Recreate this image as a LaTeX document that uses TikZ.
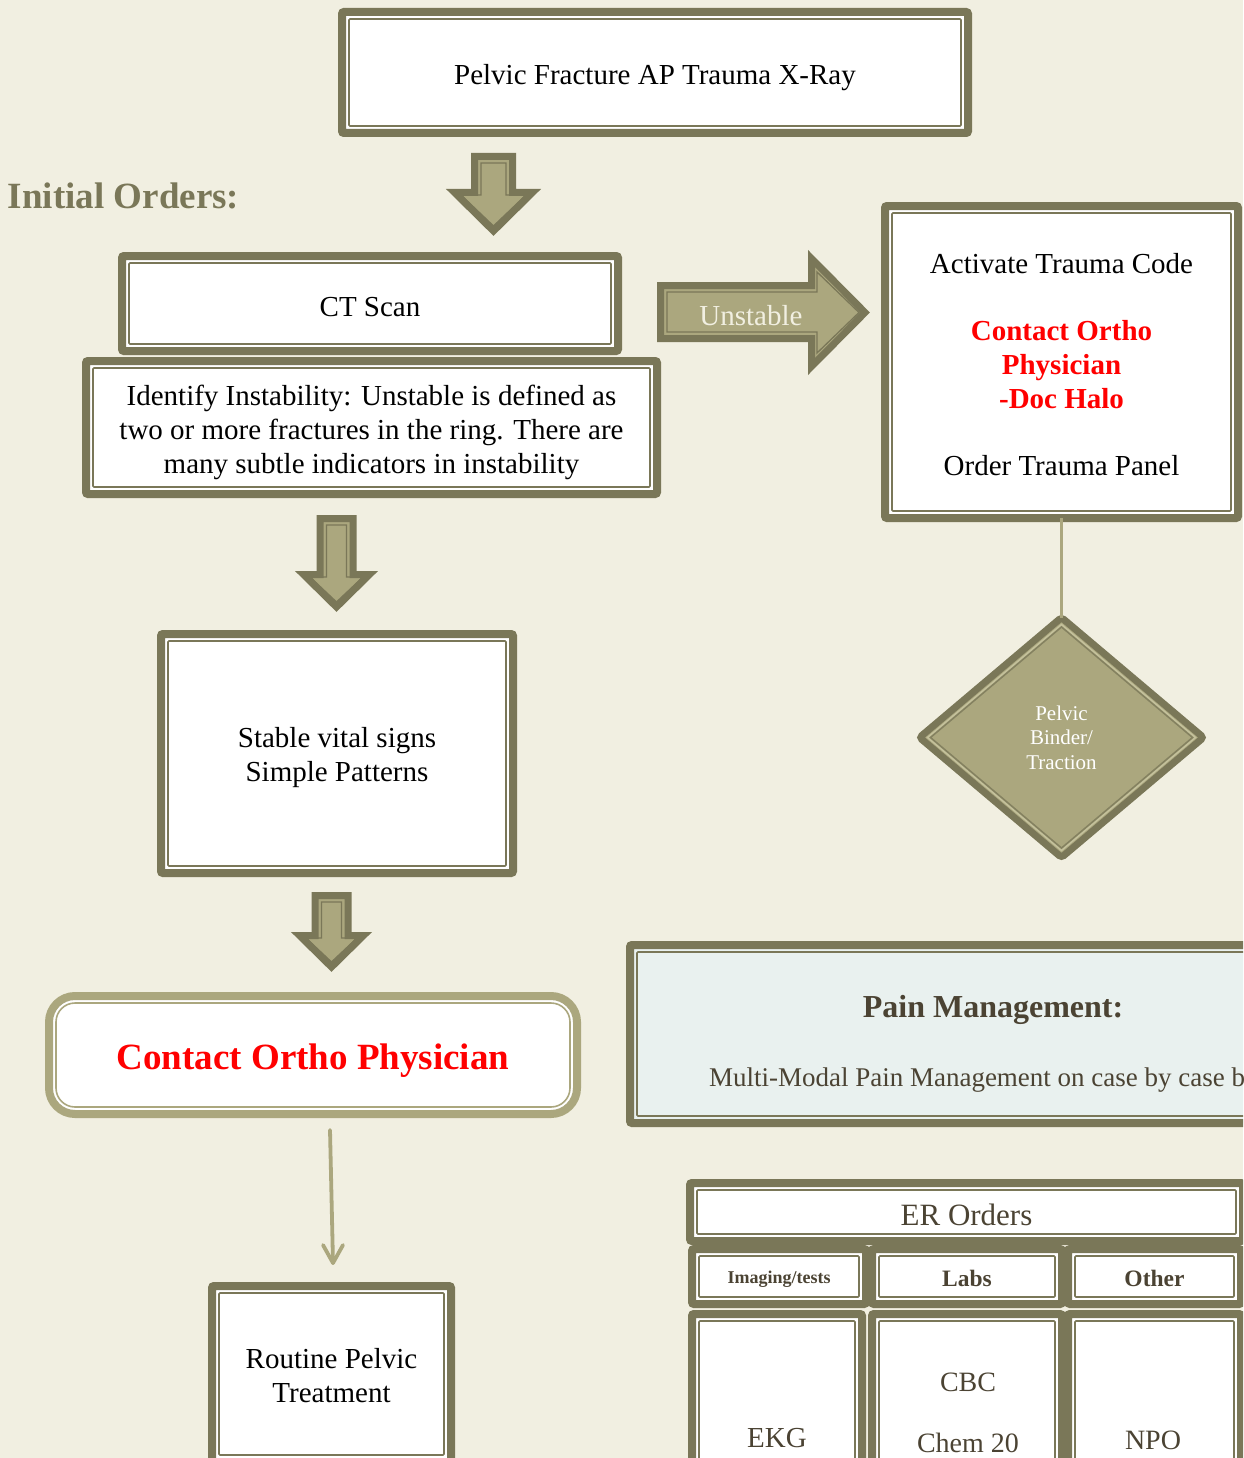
\documentclass[tikz,border=0pt]{standalone}
\usepackage{fontspec}
\setmainfont{Liberation Serif}
\usetikzlibrary{arrows.meta,shapes.geometric,calc}
\definecolor{bgc}{HTML}{F1EFE1}
\definecolor{dk}{HTML}{7A7758}
\definecolor{lt}{HTML}{ABA77E}
\definecolor{ltl}{HTML}{C4C19C}
\definecolor{painbg}{HTML}{E9F1EF}
\definecolor{brn}{HTML}{4B4333}
\definecolor{rd}{HTML}{FF0000}
\newcommand{\fsz}[2]{\fontsize{#1}{#2}\selectfont}
% block down arrow: cx, top, shaft half, head half, head base y, tip y (outer extents)
\newcommand{\blockdown}[6]{%
  \draw[barrow] ({#1-#3+3.5},{#2+3.5}) -- ({#1+#3-3.5},{#2+3.5}) -- ({#1+#3-3.5},{#5+3.5})
     -- ({#1+#4-8.5},{#5+3.5}) -- (#1,{#6-5}) -- ({#1-#4+8.5},{#5+3.5})
     -- ({#1-#3+3.5},{#5+3.5}) -- cycle;
  \draw[barrowin] ({#1-#3+10},{#2+10}) -- ({#1+#3-10},{#2+10}) -- ({#1+#3-10},{#5+6})
     -- ({#1+#4-15},{#5+6}) -- (#1,{#6-10}) -- ({#1-#4+15},{#5+6})
     -- ({#1-#3+10},{#5+6}) -- cycle;}
\begin{document}
\begin{tikzpicture}[x=1pt,y=-1pt,
  box/.style={draw=dk,line width=8pt,fill=white,rounded corners=2pt,outer sep=0pt,inner sep=0pt},
  innerln/.style={draw=dk,line width=1.6pt,rounded corners=1pt},
  barrow/.style={draw=dk,fill=lt,line width=7pt,line join=miter},
  barrowin/.style={draw=dk,line width=1.3pt,line join=miter},
  txt/.style={inner sep=0pt,outer sep=0pt,align=center},
  body/.style={txt,font=\fsz{29}{34}},
  conn/.style={draw=lt,line width=3.5pt},
  thinarr/.style={draw=lt,line width=3.8pt,line cap=round,line join=round},
  ]
\useasboundingbox (0,0) rectangle (1243,1458);
\clip (0,0) rectangle (1243,1458);
\fill[bgc] (0,0) rectangle (1243,1458);

% ---- main boxes
\node[box,minimum width=626,minimum height=121] (top) at (655,72.5) {};
\node[box,minimum width=496,minimum height=95] (ct) at (370,303.5) {};
\node[box,minimum width=571,minimum height=133] (ident) at (371.5,427.5) {};
\node[box,minimum width=353,minimum height=312] (trauma) at (1061.5,362) {};
\node[box,minimum width=352,minimum height=239] (stable) at (337,753.5) {};
\node[box,draw=lt,rounded corners=26pt,minimum width=528,minimum height=118] (contact) at (313,1055) {};
\node[box,minimum width=239,minimum height=176] (routine) at (331.5,1374) {};
\node[box,fill=painbg,minimum width=632,minimum height=178] (pain) at (946,1034) {};

% ---- ER orders table
\node[box,minimum width=553,minimum height=58] (erh) at (966.5,1212) {};
\node[box,minimum width=174,minimum height=55] (c1) at (779,1276.5) {};
\node[box,minimum width=190,minimum height=55] (c2) at (967,1276.5) {};
\node[box,minimum width=173,minimum height=55] (c3) at (1154.5,1276.5) {};
\node[box,minimum width=170,minimum height=156] (d1) at (777,1392) {};
\node[box,minimum width=190,minimum height=156] (d2) at (967,1392) {};
\node[box,minimum width=173,minimum height=156] (d3) at (1154.5,1392) {};

\foreach \n in {top,ct,ident,trauma,stable,routine,pain,erh,c1,c2,c3,d1,d2,d3}
  \draw[innerln] ([shift={(7pt,-7pt)}]\n.north west) rectangle ([shift={(-7pt,7pt)}]\n.south east);
\draw[draw=lt,line width=1.6pt,rounded corners=19pt]
  ([shift={(7pt,-7pt)}]contact.north west) rectangle ([shift={(-7pt,7pt)}]contact.south east);

% ---- box texts
\node[body] (toptxt) at ([yshift=-5pt]top.center) {Pelvic Fracture AP Trauma X-Ray};
\node[body] (cttxt) at ([yshift=-4pt]ct.center) {CT Scan};
\node[body] (identtxt) at ([yshift=-5pt]ident.center)
  {Identify Instability: Unstable is defined as\\two or more fractures in the ring. There are\\many subtle indicators in instability};
\node[body] (traumatxt) at ([yshift=-3pt]trauma.center)
  {Activate Trauma Code\\[33pt]\textcolor{rd}{\textbf{Contact Ortho}}\\\textcolor{rd}{\textbf{Physician}}\\\textcolor{rd}{\textbf{-Doc Halo}}\\[33pt]Order Trauma Panel};
\node[body] (stabletxt) at ([yshift=-4pt]stable.center) {Stable vital signs\\Simple Patterns};
\node[txt,font=\fsz{37}{44}\bfseries,text=rd] (contacttxt) at ([yshift=-6pt]contact.center) {Contact Ortho Physician};
\node[body] (routinetxt) at ([yshift=-2pt]routine.center) {Routine Pelvic\\Treatment};
\node[txt,font=\fsz{31}{36},text=brn] (erhtxt) at ([yshift=-3pt]erh.center) {ER Orders};
\node[txt,font=\fsz{18}{21}\bfseries,text=brn] (c1txt) at ([yshift=-3pt]c1.center) {Imaging/tests};
\node[txt,font=\fsz{23.5}{28}\bfseries,text=brn] (c2txt) at ([yshift=-1.5pt]c2.center) {Labs};
\node[txt,font=\fsz{23.5}{28}\bfseries,text=brn] (c3txt) at ([yshift=-1.5pt]c3.center) {Other};

\node[txt,anchor=west,font=\fsz{37}{44}\bfseries,text=dk] (init) at (8,196) {Initial Orders:};
\node[txt,font=\fsz{32}{38}\bfseries,text=brn] (ptitle) at (993,1010) {Pain Management:};
\node[txt,anchor=west,font=\fsz{27}{32},text=brn] (pbody) at (709,1080) {Multi-Modal Pain Management on case by case basis};
\node[txt,font=\fsz{29}{34},text=brn] (tekg) at (777,1438) {EKG};
\node[txt,font=\fsz{28}{33},text=brn] (tcbc) at (968,1382) {CBC};
\node[txt,font=\fsz{28}{33},text=brn] (tchem) at (968,1443) {Chem 20};
\node[txt,font=\fsz{28}{33},text=brn] (tnpo) at (1153,1440) {NPO};

% ---- block arrows
\blockdown{493.5}{153}{22.5}{47.5}{189}{236}
\blockdown{336.5}{515}{20}{41.5}{571}{612}
\blockdown{331.5}{892}{20}{40.5}{932}{972}

% unstable arrow
\draw[barrow] (660.5,285.5) -- (811.5,285.5) -- (811.5,258.5) -- (865,312.5) -- (811.5,366.5)
   -- (811.5,338.5) -- (660.5,338.5) -- cycle;
\draw[barrowin] (667,292) -- (817,292) -- (817,272) -- (859,312.5) -- (817,353) -- (817,332) -- (667,332) -- cycle;
\node[txt,font=\fsz{29}{34},text=bgc] (unst) at (751,316) {Unstable};

% ---- diamond
\node[diamond,draw=dk,fill=lt,line width=7pt,rounded corners=3pt,minimum width=284,minimum height=240,
      inner sep=0pt,outer sep=0pt,align=center,text=white,font=\fsz{21}{24.5}] (diam) at (1061.5,737.5)
      {Pelvic\\Binder/\\Traction};
\draw[draw=ltl,line width=1.5pt] ([yshift=-7pt]diam.north) -- ([xshift=-8pt]diam.east)
   -- ([yshift=7pt]diam.south) -- ([xshift=8pt]diam.west) -- cycle;
\draw[draw=dk!80!lt,line width=1.5pt] ([yshift=-9.5pt]diam.north) -- ([xshift=-11pt]diam.east)
   -- ([yshift=9.5pt]diam.south) -- ([xshift=11pt]diam.west) -- cycle;

% ---- connectors
\draw[conn] (trauma.south) -- (diam.north);
\coordinate (arrs) at ([shift={(17pt,-16pt)}]contact.south);
\coordinate (arre) at ([shift={(1.5pt,23pt)}]routine.north);
\draw[thinarr] (arrs) -- (arre);
\draw[thinarr] ([shift={(-10pt,18pt)}]arre) -- (arre) -- ([shift={(10pt,18pt)}]arre);
\end{tikzpicture}
\end{document}
